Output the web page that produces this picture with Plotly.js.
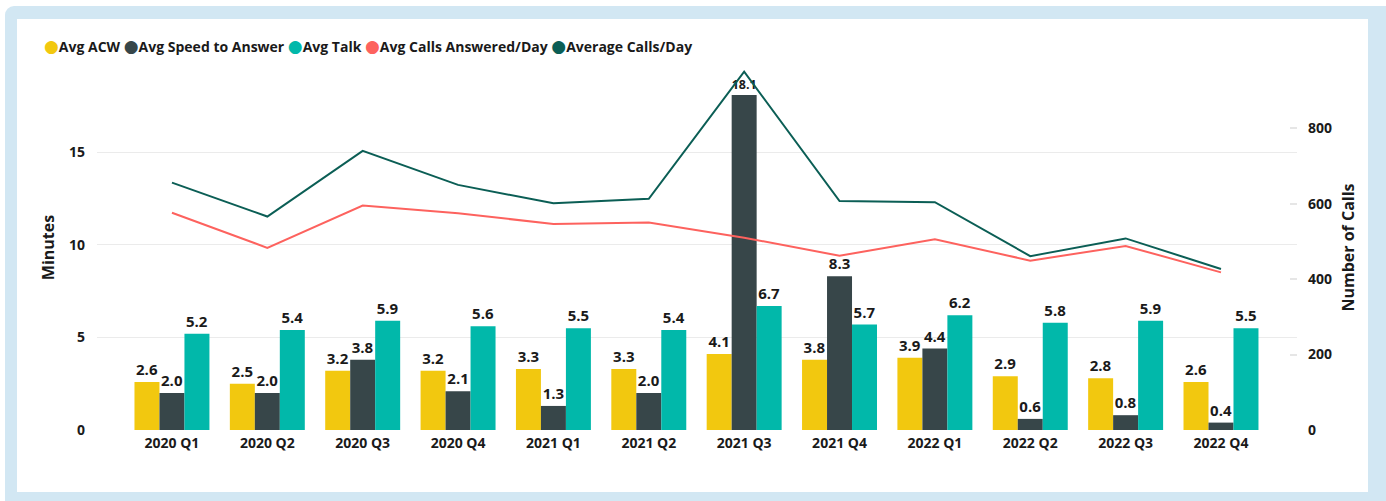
<!DOCTYPE html>
<html>
<head>
<meta charset="utf-8">
<script src="https://cdn.plot.ly/plotly-3.0.1.min.js"></script>
<style>
  html, body { margin:0; padding:0; width:1386px; height:501px; overflow:hidden; background:#ffffff; }
  #frame { position:absolute; left:5px; top:6px; width:1400px; height:520px; background:#D2E7F3; border-radius:9px; }
  #chart { position:absolute; left:17px; top:19px; width:1351px; height:473px; background:#ffffff; }
</style>
</head>
<body>
<div id="frame"></div>
<div id="chart"></div>
<script>
const categories = ["2020 Q1","2020 Q2","2020 Q3","2020 Q4","2021 Q1","2021 Q2","2021 Q3","2021 Q4","2022 Q1","2022 Q2","2022 Q3","2022 Q4"];
const avgACW = [2.6,2.5,3.2,3.2,3.3,3.3,4.1,3.8,3.9,2.9,2.8,2.6];
const avgSpeedToAnswer = [2.0,2.0,3.8,2.1,1.3,2.0,18.1,8.3,4.4,0.6,0.8,0.4];
const avgTalk = [5.2,5.4,5.9,5.6,5.5,5.4,6.7,5.7,6.2,5.8,5.9,5.5];
const avgCallsAnsweredPerDay = [576,483,595,575,546,550,510,462,506,449,488,418];
const averageCallsPerDay = [656,566,740,650,601,613,950,607,604,461,508,427];
const seriesNames = ["Avg ACW","Avg Speed to Answer","Avg Talk","Avg Calls Answered/Day","Average Calls/Day"];
const seriesColors = ["#F2C80F","#374649","#01B8AA","#FD625E","#0B5E55"];
const leftTicks = [0,5,10,15];
const rightTicks = [0,200,400,600,800];

const FONT = "'Open Sans', 'Noto Sans', sans-serif";
const TXT = "#1a1a1a";

function barTrace(vals, i) {
  return {
    type: "bar", x: categories, y: vals, name: seriesNames[i],
    marker: { color: seriesColors[i], line: { width: 0 } },
    texttemplate: "%{y:.1f}", textposition: "outside", cliponaxis: false,
    textfont: { family: FONT, size: 15, color: TXT, weight: "bold" },
    hoverinfo: "skip", showlegend: false
  };
}
function lineTrace(vals, i) {
  return {
    type: "scatter", mode: "lines", x: categories, y: vals, yaxis: "y2",
    name: seriesNames[i], line: { color: seriesColors[i], width: 2 },
    hoverinfo: "skip", showlegend: false
  };
}

const data = [
  barTrace(avgACW, 0),
  barTrace(avgSpeedToAnswer, 1),
  barTrace(avgTalk, 2),
  lineTrace(avgCallsAnsweredPerDay, 3),
  lineTrace(averageCallsPerDay, 4)
];

const legendText = seriesNames.map((n, i) =>
  `<span style="color:${seriesColors[i]};font-size:17px;font-family:'DejaVu Sans'">●</span>${n}`).join(" ");

const layout = {
  width: 1351, height: 473,
  margin: { l: 80, r: 71, t: 46, b: 62 },
  paper_bgcolor: "#ffffff", plot_bgcolor: "#ffffff",
  font: { family: FONT, color: TXT, size: 14 },
  barmode: "group", bargap: 0.214, bargroupgap: 0,
  showlegend: false,
  xaxis: {
    type: "category", range: [-0.786, 11.797],
    showgrid: false, zeroline: false, showline: false, ticks: "",
    tickfont: { family: FONT, size: 14, color: TXT, weight: "bold" },
    ticklabelstandoff: 3
  },
  yaxis: {
    range: [0, 19.72], tickvals: leftTicks,
    showgrid: true, gridcolor: "#EBEBEB", gridwidth: 1,
    zeroline: false, showline: false, ticks: "",
    tickfont: { family: FONT, size: 14, color: TXT, weight: "bold" },
    ticklabelstandoff: 11,
    title: { text: "Minutes", font: { family: FONT, size: 16, color: TXT, weight: "bold" }, standoff: 10 }
  },
  yaxis2: {
    overlaying: "y", side: "right",
    range: [0, 967.8], tickvals: rightTicks,
    showgrid: false, zeroline: false, showline: false,
    ticks: "inside", ticklen: 7, tickcolor: "#E6E6E6", tickwidth: 2,
    tickfont: { family: FONT, size: 14, color: TXT, weight: "bold" },
    ticklabelstandoff: 10,
    title: { text: "Number of Calls", font: { family: FONT, size: 16, color: TXT, weight: "bold" }, standoff: 11 }
  },
  annotations: [{
    xref: "paper", yref: "paper", x: -0.0458, y: 1.052, xanchor: "left", yanchor: "middle",
    text: legendText, showarrow: false, align: "left",
    font: { family: FONT, size: 14, color: TXT, weight: "bold" }
  }]
};

Plotly.newPlot("chart", data, layout, { displayModeBar: false, staticPlot: true });
</script>
</body>
</html>
